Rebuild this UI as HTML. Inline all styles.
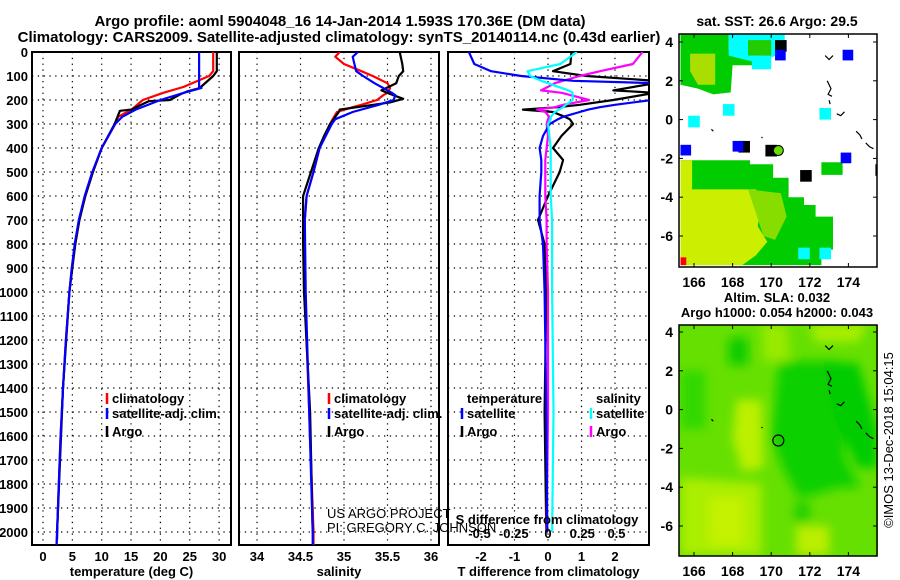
<!DOCTYPE html>
<html><head><meta charset="utf-8"><style>
html,body{margin:0;padding:0;background:#fff}
svg{display:block;font-family:"Liberation Sans",sans-serif}
.b{font-weight:bold}
</style></head><body>
<svg id="fig" width="900" height="580" viewBox="0 0 900 580" xmlns="http://www.w3.org/2000/svg">
<defs>
<clipPath id="c1"><rect x="32" y="52" width="199" height="493"/></clipPath>
<clipPath id="c2"><rect x="239" y="52" width="200" height="493"/></clipPath>
<clipPath id="c3"><rect x="448" y="52" width="201" height="493"/></clipPath>
<clipPath id="cm1"><rect x="679" y="34" width="198" height="233"/></clipPath>
<clipPath id="cm2"><rect x="679" y="325" width="199" height="231"/></clipPath>
<filter id="blur"><feGaussianBlur stdDeviation="5"/></filter>
</defs>
<text class="b" x="340" y="26" font-size="15" text-anchor="middle">Argo profile: aoml 5904048_16 14-Jan-2014 1.593S 170.36E (DM data)</text>
<text class="b" x="339" y="42" font-size="15" text-anchor="middle">Climatology: CARS2009. Satellite-adjusted climatology: synTS_20140114.nc (0.43d earlier)</text>
<g id="p1"></g>
<g id="p2"></g>
<g id="p3"></g>
<g id="m1"></g>
<g id="m2"></g>
</svg>
<script>
// ---- data ----
const depthTicks=[0,100,200,300,400,500,600,700,800,900,1000,1100,1200,1300,1400,1500,1600,1700,1800,1900,2000];
const tempTicks=[0,5,10,15,20,25,30];
const salTicks=[34,34.5,35,35.5,36];
const tdTicks=[-2,-1,0,1,2];
const sdTicks=[-0.5,-0.25,0,0.25,0.5];
const tClimDepth=[0,80,100,145,150,170,200,240,270,300,400,500,600,700,800,900,1000,1200,1400,1600,1800,2000,2060];
const tClim=[29.0,29.0,28.3,24,23.3,20.5,17,15.1,12.8,12.3,10,8.5,7.2,6.2,5.5,4.9,4.5,3.9,3.4,3.0,2.7,2.4,2.3];
const tSat=[26.6,26.6,26.6,26.6,27,24,20,15.8,13.5,12.3,10,8.4,7.1,6.1,5.4,4.9,4.5,3.9,3.4,3.0,2.7,2.4,2.3];
const tArgoDepth=[0,80,100,150,165,175,200,205,240,245,300,400,500,600,700,800,1000,1400,2000,2030];
const tArgo=[29.6,29.6,29,26.7,24.5,23.5,21.6,18,15,13.1,12.2,10,8.5,7.2,6.2,5.5,4.5,3.4,2.4,2.4];
const sClimDepth=[0,20,50,80,100,130,150,170,180,200,220,230,250,280,300,400,500,600,700,1000,1500,2000,2060];
const sClim=[34.95,34.9,35.0,35.2,35.33,35.5,35.53,35.5,35.45,35.38,35.2,35.1,34.92,34.87,34.84,34.72,34.65,34.57,34.55,34.55,34.6,34.65,34.65];
const sSat=[35.16,35.1,35.12,35.14,35.22,35.35,35.45,35.55,35.59,35.57,35.4,35.3,35.1,34.9,34.86,34.72,34.65,34.57,34.55,34.56,34.6,34.64,34.64];
const sArgoDepth=[0,50,80,100,130,160,175,195,210,240,250,300,350,400,600,800,1000,1500,2000];
const sArgo=[35.64,35.67,35.68,35.63,35.6,35.43,35.53,35.68,35.53,34.95,34.94,34.84,34.77,34.71,34.53,34.53,34.54,34.61,34.64];
const dDepth=[0,50,80,100,120,130,160,170,200,220,230,240,250,270,280,300,350,400,450,500,600,700,800,1000,1500,2000];
const dTSat=[-2.36,-2.2,-1.7,-0.8,0.75,3.2,3.5,3.5,3.1,2.0,1.55,1.2,0.95,0.45,0.3,0.05,-0.15,-0.25,-0.2,-0.2,-0.25,-0.25,-0.15,-0.1,-0.05,-0.02];
const dTArgo=[0.7,0.67,0.15,1.15,3.2,3.2,1.95,3.2,1.95,0.95,0.3,-0.75,0.15,0.5,0.65,0.75,0.4,0.15,0.45,0.35,0.0,-0.3,-0.1,-0.05,-0.1,-0.05];
const dSArgo=[0.69,0.62,0.38,0.23,0.11,0.05,-0.05,0.1,0.3,0.11,0.05,-0.08,-0.02,0.01,0.0,-0.01,0,-0.01,-0.02,-0.02,-0.02,-0.01,-0.01,0,0.0,-0.01];
const dSSat=[0.21,0.09,-0.15,-0.13,-0.05,0,0.15,0.18,0.18,0.13,0.11,0.08,0.05,0.02,0.02,0,0.01,0.02,0.02,0.02,0.02,0.03,0.03,0.03,0.04,0.03];

const NS='http://www.w3.org/2000/svg';
function mk(tag,attrs,parent){const e=document.createElementNS(NS,tag);for(const k in attrs)e.setAttribute(k,attrs[k]);parent.appendChild(e);return e;}
const yD=d=>52+d*0.24;
const xT=v=>43+v*5.87;
const xS=v=>257+(v-34)*87;
const xTD=v=>548+v*33.5;
const xSD=v=>548+v*137;

function panel(g,x0,x1,ticks,xf,labelFmt,title,clip){
  const top=52,bot=545;
  depthTicks.forEach(d=>{
    const l=mk('line',{x1:x0,x2:x1,y1:yD(d),y2:yD(d),stroke:'#000','stroke-width':1.2,'stroke-dasharray':'1.3 4.5'},g);
    
    
  });
  ticks.forEach(t=>{
    const x=xf(t);
    const l=mk('line',{x1:x,x2:x,y1:top,y2:bot,stroke:'#000','stroke-width':1.2,'stroke-dasharray':'1.3 4.5'},g);
    
    
    const tx=mk('text',{x:x,y:561,'font-size':13,'text-anchor':'middle','class':'b'},g);
    tx.textContent=labelFmt(t);
    
    
  });
  const r=mk('rect',{x:x0,y:top,width:x1-x0,height:bot-top,fill:'none',stroke:'#000','stroke-width':2},g);
  
  
  const t=mk('text',{x:(x0+x1)/2,y:576,'font-size':13,'text-anchor':'middle','class':'b'},g);
  t.textContent=title;
  
  
  return mk('g',{'clip-path':'url(#'+clip+')'},g);
}
function series(g,depths,vals,xf,color,name){
  const d=depths.map((dd,i)=>(i?'L':'M')+xf(vals[i]).toFixed(1)+' '+yD(dd).toFixed(1)).join(' ');
  const p=mk('path',{d:d,fill:'none',stroke:color,'stroke-width':2.2,'stroke-linejoin':'round'},g);
  
  
}
function legend(g,x,y,color,label){
  const l=mk('line',{x1:x,x2:x,y1:y-10,y2:y+1,stroke:color,'stroke-width':2.5},g);
  
  
  const t=mk('text',{x:x+5,y:y,'font-size':13,'class':'b'},g);
  t.textContent=label;
  
  
}
const svg=document.getElementById('fig');
depthTicks.forEach(d=>{
  const t=mk('text',{x:28,y:yD(d)+5,'font-size':13,'text-anchor':'end','class':'b'},svg);
  t.textContent=d;
  
  
});
const p1=document.getElementById('p1');
const g1=panel(p1,32,231,tempTicks,xT,v=>v,'temperature (deg C)','c1');
series(g1,tClimDepth,tClim,xT,'#ff0000','temp-climatology-line');
series(g1,tArgoDepth,tArgo,xT,'#000000','temp-argo-line');
series(g1,tClimDepth,tSat,xT,'#0000ff','temp-satellite-line');
legend(p1,107,403,'#ff0000','climatology');
legend(p1,107,418,'#0000ff','satellite-adj. clim.');
legend(p1,107,436,'#000000','Argo');
const p2=document.getElementById('p2');
const g2=panel(p2,239,439,salTicks,xS,v=>v,'salinity','c2');
series(g2,sClimDepth,sClim,xS,'#ff0000','sal-climatology-line');
series(g2,sArgoDepth,sArgo,xS,'#000000','sal-argo-line');
series(g2,sClimDepth,sSat,xS,'#0000ff','sal-satellite-line');
legend(p2,329,403,'#ff0000','climatology');
legend(p2,329,418,'#0000ff','satellite-adj. clim.');
legend(p2,329,436,'#000000','Argo');
let tt=mk('text',{x:327,y:518,'font-size':13},p2);tt.textContent='US ARGO PROJECT';


tt=mk('text',{x:327,y:532,'font-size':13},p2);tt.textContent='PI: GREGORY C. JOHNSON';


const p3=document.getElementById('p3');
const g3=panel(p3,448,649,tdTicks,xTD,v=>v,'T difference from climatology','c3');
series(g3,dDepth,dTArgo,xTD,'#000000','tdiff-argo-line');
series(g3,dDepth,dSArgo,xSD,'#ff00ff','sdiff-argo-line');
series(g3,dDepth,dTSat,xTD,'#0000ff','tdiff-satellite-line');
series(g3,dDepth,dSSat,xSD,'#00ffff','sdiff-satellite-line');
sdTicks.forEach(t=>{
  const tx=mk('text',{x:xSD(t),y:538,'font-size':13,'text-anchor':'middle','class':'b'},p3);
  tx.textContent=t;
  
  
});
tt=mk('text',{x:547,y:524,'font-size':13,'text-anchor':'middle','class':'b'},p3);tt.textContent='S difference from climatology';


tt=mk('text',{x:467,y:403,'font-size':13,'class':'b'},p3);tt.textContent='temperature';


tt=mk('text',{x:596,y:403,'font-size':13,'class':'b'},p3);tt.textContent='salinity';


legend(p3,462,418,'#0000ff','satellite');
legend(p3,462,436,'#000000','Argo');
legend(p3,591,418,'#00ffff','satellite');
legend(p3,591,436,'#ff00ff','Argo');

// ---- maps ----
const lonTicks=[166,168,170,172,174];
const latTicks=[4,2,0,-2,-4,-6];
const mx=lon=>694+(lon-166)*19.3;
const my1=lat=>42+(4-lat)*19.4;
const my2=lat=>332+(4-lat)*19.4;
function poly(g,pts,my,fill,name){
  const p=mk('polygon',{points:pts.map(q=>mx(q[0]).toFixed(1)+','+my(q[1]).toFixed(1)).join(' '),fill:fill},g);
  
  
}
function box(g,lon,lat,w,h,my,fill,name){
  const r=mk('rect',{x:mx(lon),y:my(lat),width:w*19.3,height:h*19.4,fill:fill},g);
  
  
}
function islands(g,my){
  const segs=[[[172.8,3.3],[173.0,3.1],[173.2,3.3]],[[172.9,2.0],[173.1,1.6],[172.95,1.3],[173.15,1.2]],[[173.0,1.0],[173.05,0.8]],[[173.4,0.3],[173.6,0.2],[173.8,0.4]],[[174.4,-0.6],[174.6,-0.8],[174.7,-1.0]],[[174.9,-1.2],[175.1,-1.4],[175.3,-1.5]],[[166.9,-0.5],[167.0,-0.6]],[[169.5,-0.9],[169.55,-0.95]]];
  segs.forEach(s=>{
    const p=mk('polyline',{points:s.map(q=>mx(q[0]).toFixed(1)+','+my(q[1]).toFixed(1)).join(' '),fill:'none',stroke:'#000','stroke-width':1.2},g);
    
    
  });
}
function mapAxes(g,top,bot,my){
  lonTicks.forEach(l=>{
    mk('line',{x1:mx(l),x2:mx(l),y1:top,y2:top+4,stroke:'#000'},g);
    mk('line',{x1:mx(l),x2:mx(l),y1:bot,y2:bot-4,stroke:'#000'},g);
    const t=mk('text',{x:mx(l),y:bot+20,'font-size':14,'text-anchor':'middle','class':'b'},g);
    t.textContent=l;
    
    
  });
  latTicks.forEach(l=>{
    mk('line',{x1:679,x2:683,y1:my(l),y2:my(l),stroke:'#000'},g);
    mk('line',{x1:877,x2:873,y1:my(l),y2:my(l),stroke:'#000'},g);
    const t=mk('text',{x:673,y:my(l)+5,'font-size':14,'text-anchor':'end','class':'b'},g);
    t.textContent=l;
    
    
  });
  const r=mk('rect',{x:679,y:top,width:198,height:bot-top,fill:'none',stroke:'#000','stroke-width':1.5},g);
  
  
}
const m1=document.getElementById('m1');
tt=mk('text',{x:777,y:26,'font-size':14,'text-anchor':'middle','class':'b'},m1);tt.textContent='sat. SST: 26.6 Argo: 29.5';


const mg1=mk('g',{'clip-path':'url(#cm1)'},m1);
poly(mg1,[[165.3,4.4],[167.8,4.4],[167.8,3.6],[168.2,3.2],[169.2,3.2],[169.2,2.8],[168.0,2.8],[167.9,1.4],[167.0,1.3],[166.2,1.6],[165.3,1.8]],my1,'#00cc00','sst-north-green-patch');
poly(mg1,[[165.8,3.4],[167.1,3.4],[167.1,1.8],[166.2,1.8],[165.8,2.5]],my1,'#aadd00','sst-north-yellow-patch');
poly(mg1,[[167.8,4.4],[170.7,4.4],[170.7,3.5],[170.0,3.2],[170.0,2.6],[169.0,2.6],[169.0,3.0],[167.8,3.3]],my1,'#00ffff','sst-cyan-patch');
poly(mg1,[[168.8,4.1],[170.0,4.1],[170.0,3.3],[168.8,3.3]],my1,'#22cc00','sst-green-fringe');
poly(mg1,[[165.3,-2.1],[168.9,-2.1],[168.9,-2.3],[170.1,-2.3],[170.1,-3.0],[170.9,-3.0],[170.9,-4.0],[171.7,-4.0],[171.7,-4.4],[172.3,-4.4],[172.3,-5.0],[173.2,-5.0],[173.2,-6.7],[172.6,-6.7],[172.6,-7.5],[165.3,-7.5]],my1,'#00cc00','sst-south-green-region');
poly(mg1,[[165.3,-2.1],[165.9,-2.1],[165.9,-3.6],[169.2,-3.6],[169.5,-4.2],[169.3,-5.5],[169.8,-6.3],[169.2,-7.0],[168.5,-7.5],[165.3,-7.5]],my1,'#ccee00','sst-south-yellow-region');
poly(mg1,[[168.8,-3.6],[170.5,-3.8],[170.8,-5.0],[170.2,-6.2],[169.6,-6.0]],my1,'#88dd00','sst-mid-patch');
box(mg1,172.6,-2.2,1.1,0.65,my1,'#00cc00','sst-green-block');
[[167.5,0.8],[165.7,0.2],[172.5,0.6],[171.4,-6.6],[172.5,-6.6],[169.0,3.3]].forEach(p=>box(mg1,p[0],p[1],0.6,0.6,my1,'#00ffff','sst-cyan-block'));
[[168.3,-1.1],[169.7,-1.3],[171.5,-2.6],[170.2,4.1],[175.4,-2.3]].forEach(p=>box(mg1,p[0],p[1],0.6,0.6,my1,'#000000','sst-black-block'));
[[173.7,3.6],[165.3,-1.3],[173.6,-1.7],[168.0,-1.1],[170.2,3.6]].forEach(p=>box(mg1,p[0],p[1],0.55,0.55,my1,'#0000ff','sst-blue-block'));
box(mg1,165.3,-7.1,0.3,0.4,my1,'#ff0000','sst-red-block');
islands(mg1,my1);
let dot=mk('circle',{cx:mx(170.37),cy:my1(-1.593),r:5,fill:'#66dd00',stroke:'#000','stroke-width':1},mg1);


mapAxes(m1,34,267,my1);
const m2=document.getElementById('m2');
tt=mk('text',{x:777,y:302,'font-size':13,'text-anchor':'middle','class':'b'},m2);tt.textContent='Altim. SLA: 0.032';


tt=mk('text',{x:777,y:317,'font-size':13,'text-anchor':'middle','class':'b'},m2);tt.textContent='Argo h1000: 0.054 h2000: 0.043';


const mg2=mk('g',{'clip-path':'url(#cm2)'},m2);
const bg=mk('rect',{x:679,y:325,width:199,height:231,fill:'#66e000'},mg2);


const bl=mk('g',{filter:'url(#blur)'},mg2);
poly(bl,[[168.2,0.5],[169.5,0.5],[169.6,-3],[168.5,-3.2],[168.0,-1.5]],my2,'#bbf000','sla-yellow-blob');
poly(bl,[[165.3,-3.5],[169.5,-3.8],[169.5,-7.5],[165.3,-7.5]],my2,'#aaee00','sla-yellow-blob');
poly(bl,[[166.8,-4.5],[168.6,-4.5],[168.6,-7],[166.8,-7]],my2,'#c4f200','sla-yellow-blob');
poly(bl,[[171.3,-6],[173,-6],[173,-7.5],[171.3,-7.5]],my2,'#bbee00','sla-yellow-blob');
poly(bl,[[169.5,4.4],[170.8,4.4],[171,2.5],[169.6,2.5]],my2,'#99ea00','sla-light-blob');
poly(bl,[[172,4.4],[175,4.4],[174.5,3.5],[172.3,3.5]],my2,'#aaee00','sla-light-blob');
poly(bl,[[170.4,2.5],[173.5,2.5],[173.8,-2.5],[174.6,-4],[173.5,-4],[171.5,-4.6],[170.7,-3.2],[170,-1.5],[170.2,0.5]],my2,'#11d000','sla-green-blob');
poly(bl,[[172.7,2.4],[174.5,2.4],[175.5,-1],[175.5,-3],[174.5,-3],[173.3,-0.5]],my2,'#00cc00','sla-green-blob');
poly(bl,[[167.8,3.7],[168.8,3.7],[168.8,2.3],[167.8,2.3]],my2,'#11cc00','sla-green-blob');
poly(bl,[[165.3,2],[166.6,2],[166.6,-1],[165.3,-1]],my2,'#33d800','sla-green-blob');
poly(bl,[[171.2,-4.8],[172,-4.8],[172,-5.8],[171.2,-5.8]],my2,'#22d000','sla-green-blob');
islands(mg2,my2);
dot=mk('circle',{cx:mx(170.37),cy:my2(-1.593),r:5.5,fill:'none',stroke:'#000','stroke-width':1.2},mg2);


mapAxes(m2,325,556,my2);
tt=mk('text',{x:0,y:0,'font-size':13,'text-anchor':'middle',transform:'translate(893,440) rotate(-90)'},svg);tt.textContent='©IMOS 13-Dec-2018 15:04:15';


</script>
</body></html>
